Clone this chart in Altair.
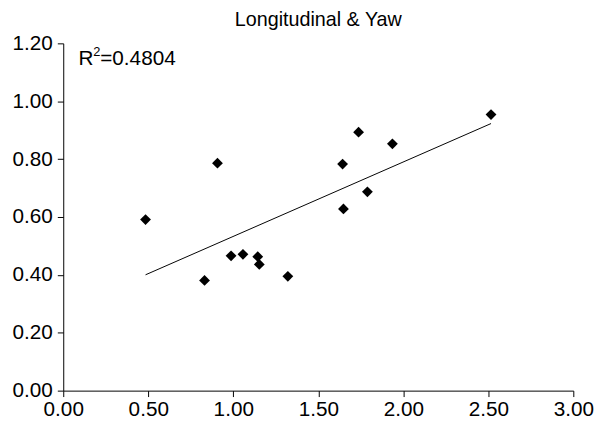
import altair as alt
import pandas as pd

# Data
x_vals = [0.484, 0.831, 0.987, 1.057, 1.144, 1.153, 1.321, 0.907, 1.643, 1.648, 1.737, 1.789, 1.936, 2.516]
y_vals = [0.591, 0.381, 0.466, 0.471, 0.463, 0.436, 0.395, 0.786, 0.783, 0.628, 0.893, 0.687, 0.853, 0.954]
x_ticks = [0.0, 0.5, 1.0, 1.5, 2.0, 2.5, 3.0]
y_ticks = [0.0, 0.2, 0.4, 0.6, 0.8, 1.0, 1.2]
title_text = "Longitudinal & Yaw"
r2_parts = ["R", "2", "=0.4804"]
r2_pos_x = [0.09, 0.09, 0.09]
r2_pos_y = [1.125, 1.125, 1.125]

df = pd.DataFrame({"x": x_vals, "y": y_vals})

FONT = "Liberation Sans"
FS = 21

xs = alt.Scale(domain=[0, 3], nice=False, zero=False)
ys = alt.Scale(domain=[0, 1.2], nice=False, zero=False)

xaxis = alt.Axis(values=x_ticks, format=".2f", title=None, grid=False,
                 domainColor="black", tickColor="black", tickSize=6,
                 labelColor="black", labelFont=FONT, labelFontSize=FS,
                 labelPadding=2, labelFlush=False)
yaxis = alt.Axis(values=y_ticks, format=".2f", title=None, grid=False,
                 domainColor="black", tickColor="black", tickSize=6,
                 labelColor="black", labelFont=FONT, labelFontSize=FS,
                 labelPadding=5)

points = alt.Chart(df).mark_point(shape="diamond", filled=True, color="black",
                                  size=120, opacity=1).encode(
    x=alt.X("x:Q", scale=xs, axis=xaxis),
    y=alt.Y("y:Q", scale=ys, axis=yaxis),
)

fit = alt.Chart(df).transform_regression("x", "y").mark_line(
    color="black", strokeWidth=1).encode(
    x=alt.X("x:Q", scale=xs),
    y=alt.Y("y:Q", scale=ys),
)

def ann_text(i, size, dx, dy):
    d = pd.DataFrame({"x": [r2_pos_x[i]], "y": [r2_pos_y[i]], "t": [r2_parts[i]]})
    return alt.Chart(d).mark_text(align="left", baseline="alphabetic", dx=dx, dy=dy,
                                  font=FONT, fontSize=size, color="black").encode(
        x=alt.X("x:Q", scale=xs),
        y=alt.Y("y:Q", scale=ys),
        text="t:N",
    )

t_r = ann_text(0, FS, 0, 0)
t_2 = ann_text(1, 13, 15, -9)
t_eq = ann_text(2, FS, 22, 0)

chart = alt.layer(points, fit, t_r, t_2, t_eq).properties(
    width=517, height=352,
    title=alt.Title(title_text, font=FONT, fontSize=20, fontWeight="normal",
                    color="black", anchor="middle", offset=3),
    autosize=alt.AutoSizeParams(type="none"),
    padding={"left": 56, "top": 33, "right": 23, "bottom": 33},
).configure_view(stroke=None)

chart.save("out.html", embed_options={"renderer": "svg", "actions": False})
